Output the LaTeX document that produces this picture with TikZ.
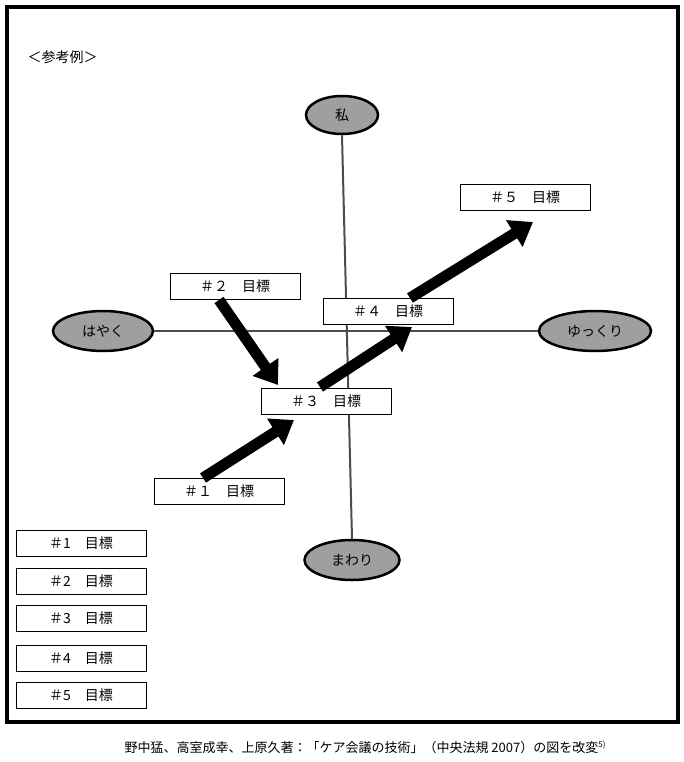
\documentclass[tikz,border=0pt]{standalone}
\usepackage{fontspec}
\setmainfont{Noto Sans CJK JP}
\usetikzlibrary{arrows.meta,shapes.geometric}
\begin{document}
\begin{tikzpicture}[x=1pt,y=-1pt,
  goal/.style={draw,line width=1pt,fill=white,minimum width=130pt,minimum height=26pt,inner sep=0pt,font=\fontsize{14}{16}\selectfont},
  oval/.style={ellipse,draw,line width=2.5pt,fill=gray!75,inner sep=0pt,font=\fontsize{14}{16}\selectfont},
  axis/.style={draw=gray!60!black,line width=2pt},
  fat/.style={line width=11pt,-{Triangle[length=22pt,width=30pt]}}]
\useasboundingbox (0,0) rectangle (683,762);
\draw[line width=4.5pt] (7,7) rectangle (678,722);
\node[anchor=west,font=\fontsize{14}{16}\selectfont] (title) at (24,57) {＜参考例＞};
\node[oval,minimum width=72pt,minimum height=38pt] (me) at (342,115) {私};
\node[oval,minimum width=100pt,minimum height=40pt] (fast) at (103,331) {はやく};
\node[oval,minimum width=112pt,minimum height=40pt] (slow) at (595,331) {ゆっくり};
\node[oval,minimum width=95pt,minimum height=40pt] (around) at (352,560) {まわり};
\draw[axis] (me.south) -- (around.north);
\draw[axis] (fast.east) -- (slow.west);
\node[goal] (g5) at (525,197) {＃５　目標};
\node[goal] (g2) at (235,286) {＃２　目標};
\node[goal] (g4) at (388,311) {＃４　目標};
\node[goal] (g3) at (326,401) {＃３　目標};
\node[goal] (g1) at (219,491) {＃１　目標};
\coordinate (s2) at (219,300);
\coordinate (e2) at (278,385);
\draw[fat] (s2) -- (e2);
\coordinate (e3) at (320,387);
\coordinate (e4) at (412,327);
\draw[fat] (e3) -- (e4);
\coordinate (s5) at (410,298);
\coordinate (e5) at (533,222);
\draw[fat] (s5) -- (e5);
\coordinate (s1) at (203,478);
\coordinate (e1) at (294,420);
\draw[fat] (s1) -- (e1);
\foreach \i/\y in {1/543,2/581,3/618,4/658,5/695}{
  \node[goal] (l\i) at (81,\y) {＃\i　目標};
}
\node[font=\fontsize{13}{15}\selectfont] (cap) at (365,747) {野中猛、高室成幸、上原久著：「ケア会議の技術」（中央法規 2007）の図を改変\raisebox{0.7ex}{\fontsize{8}{9}\selectfont 5)}};
\end{tikzpicture}
\end{document}
